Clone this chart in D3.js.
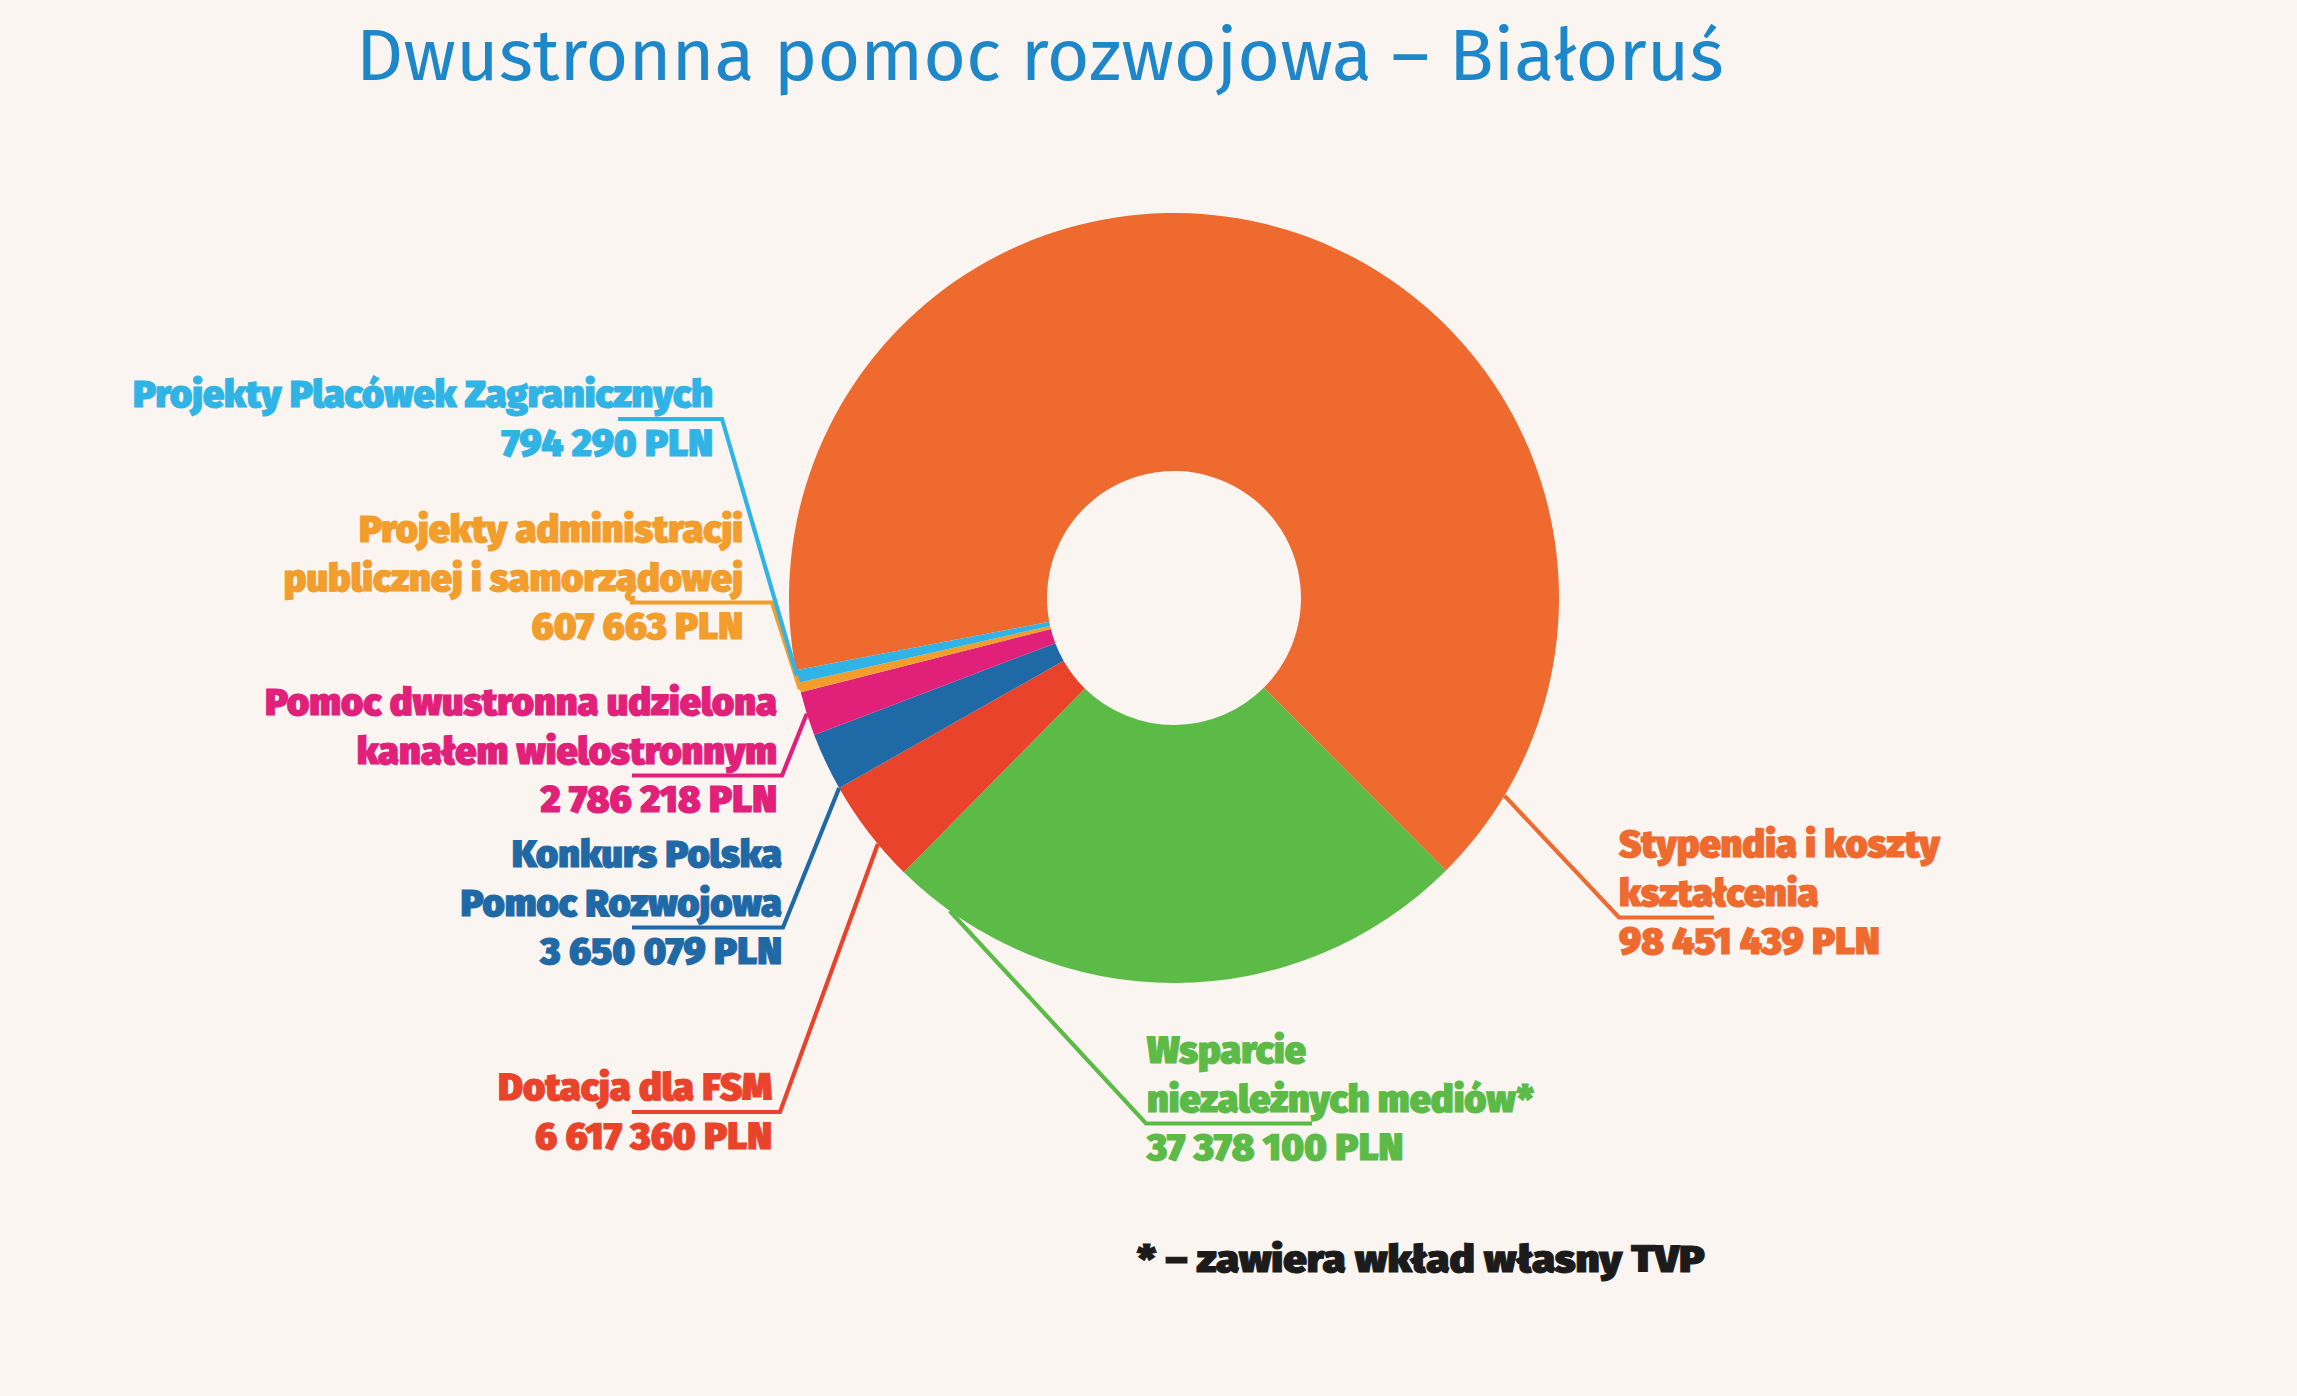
<!DOCTYPE html>
<html lang="pl">
<head>
<meta charset="utf-8">
<title>Dwustronna pomoc rozwojowa – Białoruś</title>
<script src="https://cdn.jsdelivr.net/npm/d3@7"></script>
<style>
  html, body { margin: 0; padding: 0; background: #faf5f1; }
  svg { display: block; }
</style>
</head>
<body>
<div id="chart"></div>
<script>
// data
const categories = [
  "Stypendia i koszty kształcenia",
  "Wsparcie niezależnych mediów*",
  "Dotacja dla FSM",
  "Konkurs Polska Pomoc Rozwojowa",
  "Pomoc dwustronna udzielona kanałem wielostronnym",
  "Projekty administracji publicznej i samorządowej",
  "Projekty Placówek Zagranicznych"
];
const values = [98451439, 37378100, 6617360, 3650079, 2786218, 607663, 794290];
const labelLines = [
  ["Stypendia i koszty", "kształcenia"],
  ["Wsparcie", "niezależnych mediów*"],
  ["Dotacja dla FSM"],
  ["Konkurs Polska", "Pomoc Rozwojowa"],
  ["Pomoc dwustronna udzielona", "kanałem wielostronnym"],
  ["Projekty administracji", "publicznej i samorządowej"],
  ["Projekty Placówek Zagranicznych"]
];
const title = "Dwustronna pomoc rozwojowa – Białoruś";
const footnote = "* – zawiera wkład własny TVP";
const unit = "PLN";

// styles and layout
const colors = ["#ee6a2e", "#5cbb47", "#e9442b", "#1f69a6", "#e1207a", "#f39d2c", "#30b4e6"];
const W = 2297, H = 1396;
const cx = 1174, cy = 598, rOuter = 385, rInner = 127;
const startDeg = -100.8;
const LINE = 48.5, UL = 12;
const LABEL_FONT = "'Fira Sans', Roboto, 'Open Sans', sans-serif";
const LABEL_WEIGHT = 900, LABEL_SIZE = 37;
// x,y = first baseline, cx = corner of the leader, ux = other end of underline,
// ul = line under which the leader runs, t = where on the slice the leader ends
const layout = [
  {x: 1619, y: 857,  anchor: "start", ul: 1, cx: 1619, ux: 1714, t: 0.94},
  {x: 1147, y: 1063, anchor: "start", ul: 1, cx: 1146, ux: 1312, t: 0.90},
  {x: 772,  y: 1100, anchor: "end",   ul: 0, cx: 780,  ux: 632,  t: 0.36},
  {x: 782,  y: 867,  anchor: "end",   ul: 1, cx: 783,  ux: 632,  t: 0.0},
  {x: 777,  y: 715,  anchor: "end",   ul: 1, cx: 782,  ux: 632,  t: 0.5},
  {x: 743,  y: 542,  anchor: "end",   ul: 1, cx: 772,  ux: 630,  t: 0.3},
  {x: 713,  y: 407,  anchor: "end",   ul: 0, cx: 722,  ux: 618,  t: 0.6}
];

const rad = d => d * Math.PI / 180;
const pl = d3.formatLocale({decimal: ",", thousands: "\u00a0", grouping: [3]});
const fmt = pl.format(",d");

const svg = d3.select("#chart").append("svg")
    .attr("width", W).attr("height", H)
    .attr("viewBox", [0, 0, W, H]);
svg.append("rect").attr("width", W).attr("height", H).attr("fill", "#faf5f1");

// title, stretched to the width it has in the picture
const t = svg.append("text")
    .attr("font-family", "'Fira Sans', 'Open Sans', 'Noto Sans', sans-serif")
    .attr("font-size", 72)
    .attr("fill", "#1d87c9")
    .text(title);
const tk = 1368 / t.node().getComputedTextLength();
t.attr("transform", `translate(356,80)scale(${tk},1)`);

// horizontal squeeze so the bold face is as wide as the original
function squeeze(str, target) {
    const p = svg.append("text")
        .attr("font-family", LABEL_FONT).attr("font-weight", LABEL_WEIGHT)
        .attr("font-size", LABEL_SIZE).text(str);
    const w = p.node().getComputedTextLength();
    p.remove();
    return target / w;
}
const k = squeeze(labelLines[6][0], 580);
const kv = squeeze(fmt(values[0]) + " " + unit, 261);
const kf = squeeze(footnote, 568);

// donut
const pie = d3.pie().sort(null).value(d => d)
    .startAngle(rad(startDeg)).endAngle(rad(startDeg + 360));
const arcs = pie(values);
const arc = d3.arc().innerRadius(rInner).outerRadius(rOuter);

const g = svg.append("g").attr("transform", `translate(${cx},${cy})`);
g.selectAll("path.slice")
    .data(arcs)
    .join("path")
    .attr("class", "slice")
    .attr("d", arc)
    .attr("fill", (d, i) => colors[i]);

// leader lines
const line = d3.line();
svg.append("g").selectAll("path.leader")
    .data(arcs)
    .join("path")
    .attr("class", "leader")
    .attr("fill", "none")
    .attr("stroke", (d, i) => colors[i])
    .attr("stroke-width", 4.2)
    .attr("stroke-linejoin", "miter")
    .attr("d", (d, i) => {
        const L = layout[i];
        const a = d.startAngle + L.t * (d.endAngle - d.startAngle);
        const p = d3.pointRadial(a, rOuter);
        const y = L.y + L.ul * LINE + UL;
        return line([[cx + p[0], cy + p[1]], [L.cx, y], [L.ux, y]]);
    });

// labels (a thin stroke of the same colour makes the face heavier)
const labels = svg.append("g").selectAll("g.label")
    .data(arcs)
    .join("g")
    .attr("class", "label")
    .attr("font-family", LABEL_FONT)
    .attr("font-weight", LABEL_WEIGHT)
    .attr("font-size", LABEL_SIZE)
    .attr("fill", (d, i) => colors[i])
    .attr("stroke", (d, i) => colors[i])
    .attr("stroke-width", 1);

labels.each(function(d, i) {
    const L = layout[i];
    const n = labelLines[i].length;
    const lines = labelLines[i].concat([fmt(d.data) + " " + unit]);
    d3.select(this).selectAll("text")
        .data(lines)
        .join("text")
        .attr("text-anchor", L.anchor)
        .attr("transform", (s, j) =>
            `translate(${L.x},${L.y + j * LINE})scale(${j < n ? k : kv},1)`)
        .text(s => s);
});

// footnote
svg.append("text")
    .attr("font-family", LABEL_FONT).attr("font-weight", LABEL_WEIGHT)
    .attr("font-size", LABEL_SIZE)
    .attr("fill", "#1b1b1b").attr("stroke", "#1b1b1b").attr("stroke-width", 1)
    .attr("transform", `translate(1137,1272)scale(${kf},1)`)
    .text(footnote);
</script>
</body>
</html>
